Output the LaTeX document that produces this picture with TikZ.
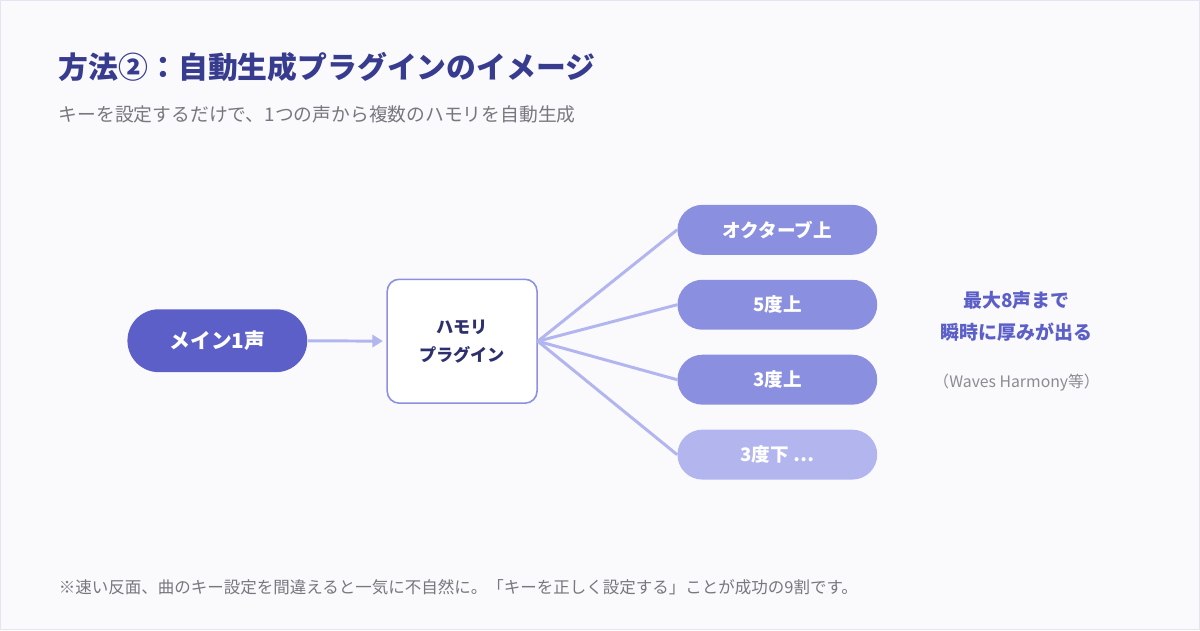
\documentclass[tikz,border=0pt]{standalone}
\usepackage{fontspec}
\setmainfont{Noto Sans CJK JP}
\usetikzlibrary{arrows.meta}

\definecolor{pagebg}{HTML}{FAFAFD}
\definecolor{pageline}{HTML}{E4E4F2}
\definecolor{titleblue}{HTML}{383C8E}
\definecolor{subgray}{HTML}{77777F}
\definecolor{mainfill}{HTML}{5B5FC7}
\definecolor{plugline}{HTML}{8C90E0}
\definecolor{plugtext}{HTML}{2E306E}
\definecolor{outfill}{HTML}{8A8FDF}
\definecolor{outpale}{HTML}{B3B6EE}
\definecolor{linkline}{HTML}{B3B6EE}

\tikzset{
  pill/.style={rounded corners=0.5cm, minimum width=4cm, minimum height=1cm,
    inner sep=0pt, text=white, font=\bfseries\fontsize{10.6}{12}\selectfont},
  link/.style={draw=linkline, line width=1.7pt},
}

\begin{document}
\begin{tikzpicture}[x=0.02cm, y=-0.02cm]
        % page, 1200 x 630 px
        \draw[pageline, fill=pagebg, line width=0.6pt] (0,0) rectangle (1200,630);

        % heading
        \node[anchor=base west, inner sep=0pt, text=titleblue, font=\bfseries\fontsize{17}{20}\selectfont] (title) at (58,78) {方法②：自動生成プラグインのイメージ};
        \node[anchor=base west, inner sep=0pt, text=subgray, font=\fontsize{10.7}{13}\selectfont] (subtitle) at (58,121) {キーを設定するだけで、1つの声から複数のハモリを自動生成};

        % input voice and plugin
        \node[pill, fill=mainfill, minimum width=3.6cm, minimum height=1.26cm, rounded corners=0.63cm,
              font=\bfseries\fontsize{11.8}{13}\selectfont] (voice) at (217,340.5) {メイン1声};
        \node[draw=plugline, fill=white, line width=0.9pt, rounded corners=0.24cm, minimum width=3cm, minimum height=2.48cm,
              align=center, text=plugtext, font=\bfseries\fontsize{9.8}{16}\selectfont] (plugin) at (462,341) {ハモリ\\プラグイン};
        \draw[link, -{Triangle[length=6pt, width=7pt]}, shorten >=2pt] (voice) -- (plugin);

        % harmony outputs
        \node[pill, fill=outfill] (octave) at (777.5,229.5) {オクターブ上};
        \node[pill, fill=outfill] (fifth) at (777.5,304.5) {5度上};
        \node[pill, fill=outfill] (third) at (777.5,379.5) {3度上};
        \node[pill, fill=outpale] (lower) at (777.5,454.5) {3度下 ⋯};

        \foreach \o in {octave, fifth, third, lower}
          \draw[link] (plugin.east) -- (\o.west);

        % side note
        \node[align=center, text=mainfill, font=\bfseries\fontsize{10.8}{18.5}\selectfont] (note) at (1017,316) {最大8声まで\\瞬時に厚みが出る};
        \node[text=subgray!85, font=\fontsize{9}{11}\selectfont] (example) at (1017,382) {（Waves Harmony等）};

        % footnote
        \node[anchor=base west, inner sep=0pt, text=subgray, font=\fontsize{9.4}{11}\selectfont] (footnote) at (58,593) {※速い反面、曲のキー設定を間違えると一気に不自然に。「キーを正しく設定する」ことが成功の9割です。};
    \end{tikzpicture}
\end{document}
